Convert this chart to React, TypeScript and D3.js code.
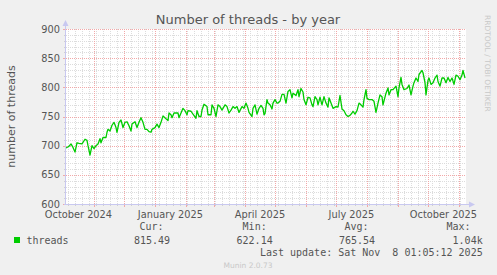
import React from "react";
import * as d3 from "d3";

// ---- data ----
const startDate = new Date(2024, 9, 4, 1, 5, 12);
const endDate = new Date(2025, 10, 8, 1, 5, 12);

// days since startDate
const dayIndex = [
  0, 3, 5, 7, 9, 11, 13, 16, 19, 21, 22, 24, 26, 28, 30, 32, 34, 35, 37, 40,
  41, 42, 44, 46, 48, 50, 51, 53, 55, 57, 59, 61, 63, 65, 66, 69, 71, 73, 75, 77,
  79, 81, 83, 85, 86, 89, 91, 93, 95, 97, 100, 102, 103, 105, 106, 108, 112, 113, 115, 117,
  119, 121, 122, 125, 127, 130, 131, 133, 135, 136, 138, 141, 142, 145, 146, 148, 150, 152, 154, 156,
  159, 161, 163, 165, 167, 169, 171, 173, 176, 178, 180, 182, 183, 186, 187, 189, 191, 193, 195, 197,
  198, 199, 200, 201, 202, 204, 206, 207, 209, 211, 212, 214, 216, 218, 220, 222, 224, 226, 227, 230,
  232, 233, 235, 237, 238, 240, 242, 244, 246, 247, 249, 251, 252, 254, 256, 258, 260, 262, 263, 265,
  267, 270, 272, 274, 276, 278, 280, 282, 284, 286, 287, 289, 291, 293, 295, 297, 298, 300, 301, 303,
  306, 308, 310, 312, 314, 316, 317, 320, 322, 323, 325, 327, 330, 332, 333, 335, 336, 338, 341, 343,
  345, 347, 348, 350, 352, 353, 356, 357, 359, 360, 362, 363, 365, 367, 369, 371, 372, 374, 376, 378,
  380, 382, 384, 386, 388, 390, 392, 394, 396, 397, 399,
];

const threads = [
  696, 699, 703, 697, 689, 705, 704, 703, 711, 709, 700, 684, 700, 695, 700, 703, 712, 705, 714, 714,
  723, 728, 725, 735, 740, 731, 723, 740, 744, 731, 740, 741, 734, 725, 737, 741, 731, 740, 748, 740,
  728, 728, 724, 723, 728, 731, 737, 731, 740, 751, 746, 743, 756, 753, 748, 756, 756, 748, 756, 764,
  760, 753, 760, 759, 754, 747, 760, 750, 750, 761, 771, 767, 753, 753, 770, 764, 750, 770, 767, 761,
  770, 767, 756, 761, 767, 764, 767, 757, 767, 764, 773, 764, 757, 750, 764, 770, 754, 764, 769, 764,
  753, 755, 767, 779, 773, 770, 763, 773, 779, 773, 773, 776, 788, 788, 773, 793, 796, 782, 790, 786,
  796, 784, 798, 792, 779, 770, 783, 782, 770, 767, 784, 779, 770, 783, 770, 784, 773, 766, 782, 773,
  764, 767, 766, 786, 763, 760, 753, 750, 752, 756, 759, 754, 760, 773, 770, 766, 779, 796, 781, 779,
  779, 776, 757, 773, 787, 784, 770, 790, 799, 787, 796, 796, 802, 784, 799, 817, 805, 796, 798, 804,
  787, 802, 808, 816, 810, 822, 829, 825, 808, 787, 812, 816, 805, 808, 816, 821, 810, 802, 816, 816,
  808, 817, 810, 816, 805, 821, 819, 813, 821, 829, 816,
];

const yMajorTicks = [600, 650, 700, 750, 800, 850, 900];
const xLabelMonths = [
  new Date(2024, 9, 1),
  new Date(2025, 0, 1),
  new Date(2025, 3, 1),
  new Date(2025, 6, 1),
  new Date(2025, 9, 1),
];

const title = "Number of threads - by year";
const yTitle = "number of threads";
const seriesName = "threads";
const legendHeads = ["Cur:", "Min:", "Avg:", "Max:"];
const legendValues = ["815.49", "622.14", "765.54", "1.04k"];
const lastUpdate = "Last update: Sat Nov  8 01:05:12 2025";
const footer = "Munin 2.0.73";
const sideText = "RRDTOOL / TOBI OETIKER";

// ---- layout ----
const W = 497;
const H = 275;
const L = 66;
const R = 466;
const T = 29;
const B = 204;

const SANS = "'DejaVu Sans', sans-serif";
const MONO = "'DejaVu Sans Mono', monospace";

export default function App() {
  const x = d3.scaleTime().domain([startDate, endDate]).range([L, R]);
  const y = d3.scaleLinear().domain([600, 900]).range([B, T]);

  const points: [Date, number][] = dayIndex.map((d, i) => [
    d3.timeDay.offset(startDate, d),
    threads[i],
  ]);
  const line = d3
    .line<[Date, number]>()
    .x((d) => x(d[0]))
    .y((d) => y(d[1]));

  const minorY = d3.range(600, 901, 10).filter((v) => v % 50 !== 0);
  const weeks = d3.timeSunday.range(startDate, endDate);
  const months = d3.timeMonth.range(startDate, endDate);
  const fmt = d3.timeFormat("%B %Y");

  const colRight = [163.5, 266.7, 368.5, 470.5];
  const valRight = [170, 272.7, 375, 482.7];

  return (
    <svg
      width={W}
      height={H}
      style={{ position: "absolute", left: 0, top: 0, display: "block" }}
    >
      <rect x={0} y={0} width={W} height={H} fill="#F0F0F0" />
      <rect x={L} y={T} width={R - L} height={B - T} fill="#FFFFFF" />

      {/* minor grid */}
      <g stroke="#DCDCDC" strokeWidth={1} strokeDasharray="1,1" shapeRendering="crispEdges">
        {minorY.map((v) => (
          <line key={"my" + v} x1={L} x2={R} y1={Math.round(y(v)) + 0.5} y2={Math.round(y(v)) + 0.5} />
        ))}
        {weeks.map((d, i) => (
          <line key={"wx" + i} x1={Math.round(x(d)) + 0.5} x2={Math.round(x(d)) + 0.5} y1={T} y2={B} />
        ))}
      </g>
      {/* major grid */}
      <g stroke="#F2A8A8" strokeWidth={1} strokeDasharray="1,1" shapeRendering="crispEdges">
        {yMajorTicks.map((v) => (
          <line key={"My" + v} x1={L} x2={R} y1={Math.round(y(v)) + 0.5} y2={Math.round(y(v)) + 0.5} />
        ))}
        {months.map((d, i) => (
          <line key={"Mx" + i} x1={Math.round(x(d)) + 0.5} x2={Math.round(x(d)) + 0.5} y1={T} y2={B} />
        ))}
      </g>

      {/* tick marks */}
      <g shapeRendering="crispEdges">
        {minorY.map((v) => (
          <line key={"ty" + v} x1={L - 2} x2={L} y1={Math.round(y(v)) + 0.5} y2={Math.round(y(v)) + 0.5} stroke="#D0D0D0" />
        ))}
        {yMajorTicks.map((v) => (
          <line key={"tY" + v} x1={L - 3} x2={L} y1={Math.round(y(v)) + 0.5} y2={Math.round(y(v)) + 0.5} stroke="#F2A8A8" />
        ))}
        {weeks.map((d, i) => (
          <line key={"tw" + i} x1={Math.round(x(d)) + 0.5} x2={Math.round(x(d)) + 0.5} y1={B} y2={B + 2} stroke="#D0D0D0" />
        ))}
        {months.map((d, i) => (
          <line key={"tm" + i} x1={Math.round(x(d)) + 0.5} x2={Math.round(x(d)) + 0.5} y1={B} y2={B + 3} stroke="#F2A8A8" />
        ))}
      </g>

      {/* data line */}
      <path d={line(points) || ""} fill="none" stroke="#00CC00" strokeWidth={1.3} strokeLinejoin="round" />

      {/* axes */}
      <g stroke="#C8C8F0" strokeWidth={1} shapeRendering="crispEdges">
        <line x1={L - 0.5} x2={L - 0.5} y1={B + 1} y2={T - 5} />
        <line x1={L - 2} x2={R + 5} y1={B + 0.5} y2={B + 0.5} />
      </g>
      <path d={`M${L - 3.5},${T - 3} L${L - 0.5},${T - 9} L${L + 2.5},${T - 3} Z`} fill="#C8C8F0" />
      <path d={`M${R + 3},${B - 2.5} L${R + 9},${B + 0.5} L${R + 3},${B + 3.5} Z`} fill="#C8C8F0" />

      {/* y tick labels */}
      <g fontFamily={SANS} fontSize={9.8} fill="#555555" textAnchor="end">
        {yMajorTicks.map((v) => (
          <text key={"yl" + v} x={L - 6} y={y(v) + 3.5}>
            {v}
          </text>
        ))}
      </g>
      {/* x labels */}
      <g fontFamily={SANS} fontSize={9.8} fill="#555555" textAnchor="middle">
        {xLabelMonths.map((m, i) => {
          const next = d3.timeMonth.offset(m, 1);
          const cx = (x(m) + x(next)) / 2;
          return (
            <text key={"xl" + i} x={cx} y={B + 13.5}>
              {fmt(m)}
            </text>
          );
        })}
      </g>

      {/* titles */}
      <text x={248} y={23.5} fontFamily={SANS} fontSize={13} fill="#555555" textAnchor="middle">
        {title}
      </text>
      <text
        transform={`translate(14.5,${(T + B) / 2}) rotate(-90)`}
        fontFamily={SANS}
        fontSize={11}
        fill="#555555"
        textAnchor="middle"
      >
        {yTitle}
      </text>
      <text
        transform={`translate(484.5,15) rotate(90)`}
        fontFamily={SANS}
        fontSize={7.5}
        fill="#C8C8C8"
        textAnchor="start"
      >
        {sideText}
      </text>

      {/* legend */}
      <rect x={14} y={237} width={6} height={6} fill="#00CC00" />
      <g fontFamily={MONO} fontSize={10} fill="#555555">
        <text x={26.5} y={243.5}>{seriesName}</text>
        {legendHeads.map((h, i) => (
          <text key={"lh" + i} x={colRight[i]} y={230} textAnchor="end">
            {h}
          </text>
        ))}
        {legendValues.map((v, i) => (
          <text key={"lv" + i} x={valRight[i]} y={243.5} textAnchor="end">
            {v}
          </text>
        ))}
        <text x={482.7} y={256} textAnchor="end" xmlSpace="preserve" style={{ whiteSpace: "pre" }}>
          {lastUpdate}
        </text>
      </g>
      <text x={248} y={267.5} fontFamily={SANS} fontSize={7.5} fill="#C8C8C8" textAnchor="middle">
        {footer}
      </text>
    </svg>
  );
}
